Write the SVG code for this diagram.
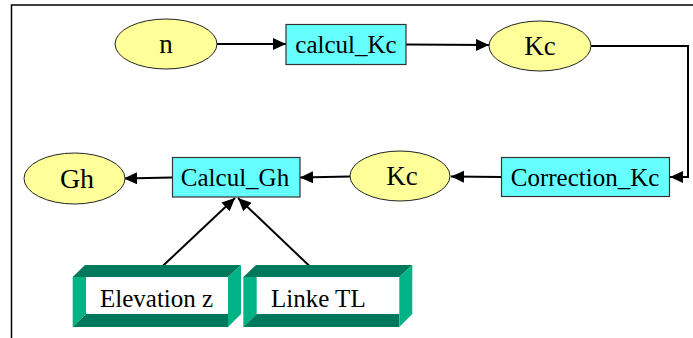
<svg xmlns="http://www.w3.org/2000/svg" width="693" height="338" viewBox="0 0 693 338">
<defs>
<style>
.ell{fill:#FFFF99;stroke:#222;stroke-width:1}
.box{fill:#66FFFF;stroke:#333;stroke-width:1.2}
.dk{fill:#00785C}
.lt{fill:#00B386}
.c{fill:none;stroke:#000;stroke-width:2}
</style>
<marker id="ah" markerUnits="userSpaceOnUse" markerWidth="14" markerHeight="12" refX="13" refY="6" orient="auto">
<path d="M0,0 L13,6 L0,12 Z" fill="#000"/>
</marker>
</defs>
<rect width="693" height="338" fill="#fff"/>
<path d="M693,5 H11.5 V338" fill="none" stroke="#000" stroke-width="1.5"/>
<g id="connectors">
<line class="c" x1="217" y1="44" x2="286" y2="44" marker-end="url(#ah)"/>
<line class="c" x1="406" y1="44.5" x2="489" y2="45" marker-end="url(#ah)"/>
<polyline class="c" points="591,46 688,46 688,177 670,177" marker-end="url(#ah)"/>
<line class="c" x1="501" y1="177" x2="451" y2="176.5" marker-end="url(#ah)"/>
<line class="c" x1="350" y1="176.5" x2="300" y2="177.5" marker-end="url(#ah)"/>
<line class="c" x1="172" y1="177.5" x2="124" y2="178.5" marker-end="url(#ah)"/>
<line class="c" x1="151" y1="277" x2="235" y2="198" marker-end="url(#ah)"/>
<line class="c" x1="321" y1="277" x2="238" y2="198" marker-end="url(#ah)"/>
</g>
<g id="n">
<ellipse class="ell" cx="166" cy="44" rx="51" ry="25"/>
<text x="166" y="53" style="font-family:'Liberation Serif',serif;font-size:27px;text-anchor:middle">n</text>
</g>
<g id="calcul_Kc">
<rect class="box" x="286" y="24.5" width="120" height="40"/>
<text x="346" y="53" style="font-family:'Liberation Serif',serif;font-size:25px;text-anchor:middle">calcul_Kc</text>
</g>
<g id="Kc1">
<ellipse class="ell" cx="540" cy="46" rx="51" ry="25"/>
<text x="540" y="54.5" style="font-family:'Liberation Serif',serif;font-size:27px;text-anchor:middle">Kc</text>
</g>
<g id="Correction_Kc">
<rect class="box" x="501.5" y="157.5" width="168" height="39"/>
<text x="585" y="186" style="font-family:'Liberation Serif',serif;font-size:25px;text-anchor:middle">Correction_Kc</text>
</g>
<g id="Kc2">
<ellipse class="ell" cx="400" cy="176" rx="50" ry="25"/>
<text x="402" y="185" style="font-family:'Liberation Serif',serif;font-size:27px;text-anchor:middle">Kc</text>
</g>
<g id="Calcul_Gh">
<rect class="box" x="172.5" y="157.5" width="127.5" height="39.5"/>
<text x="235" y="186" style="font-family:'Liberation Serif',serif;font-size:25px;text-anchor:middle">Calcul_Gh</text>
</g>
<g id="Gh">
<ellipse class="ell" cx="74.5" cy="178.5" rx="50.5" ry="25.5"/>
<text x="77" y="188" style="font-family:'Liberation Serif',serif;font-size:28px;text-anchor:middle">Gh</text>
</g>
<g id="Elevation_z">
<rect x="86" y="277" width="142" height="37" fill="#fff"/>
<polygon class="dk" points="72.7,277 85,265 241,265 228,277"/>
<polygon class="lt" points="72.7,277 86,277 86,314 72.7,327"/>
<polygon class="dk" points="72.7,327 86,314 228,314 228,327"/>
<polygon class="lt" points="228,277 241,265 241,314 228,327"/>
<text x="100" y="307" style="font-family:'Liberation Serif',serif;font-size:25px">Elevation z</text>
</g>
<g id="Linke_TL">
<rect x="256.7" y="277" width="142.6" height="37" fill="#fff"/>
<polygon class="dk" points="243.3,277 256,265 412.3,265 399.3,277"/>
<polygon class="lt" points="243.3,277 256.7,277 256.7,314 243.3,327"/>
<polygon class="dk" points="243.3,327 256.7,314 399.3,314 399.3,327"/>
<polygon class="lt" points="399.3,277 412.3,265 412.3,314 399.3,327"/>
<text x="271" y="307" style="font-family:'Liberation Serif',serif;font-size:25px">Linke TL</text>
</g>
</svg>
